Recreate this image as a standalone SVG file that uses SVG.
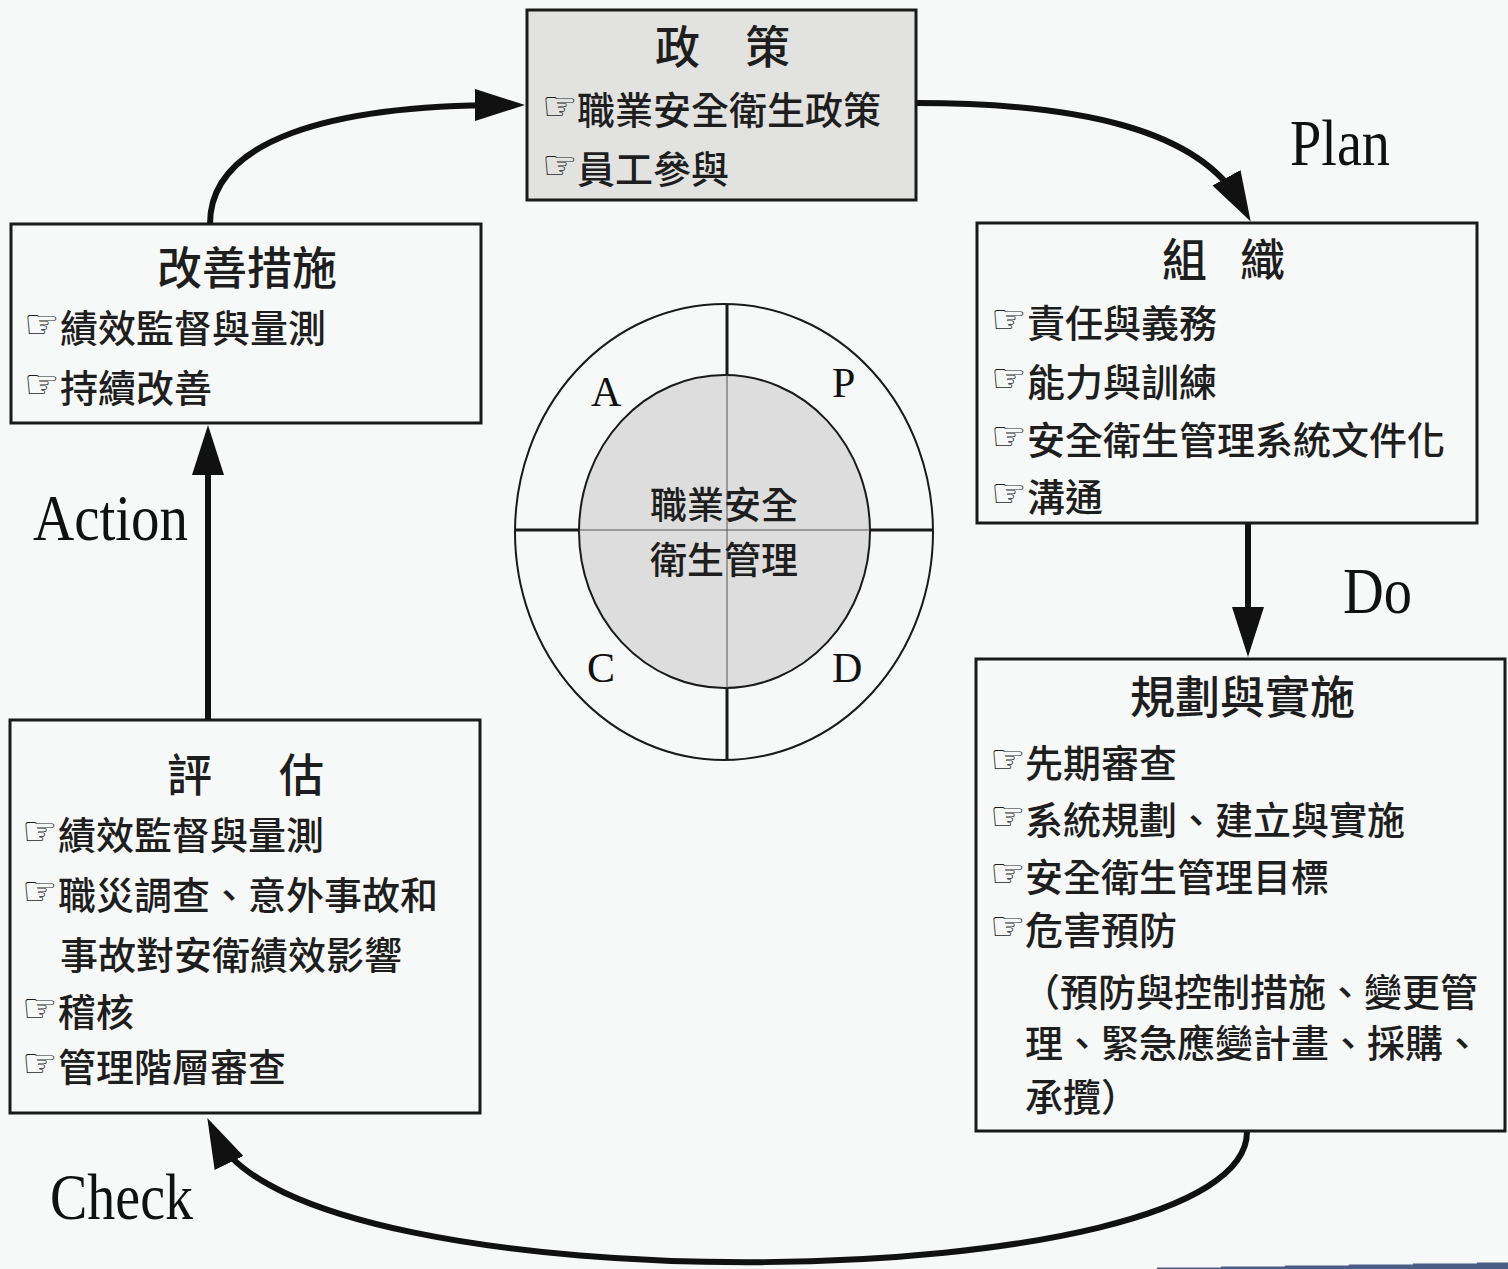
<svg xmlns="http://www.w3.org/2000/svg" width="1508" height="1269" viewBox="0 0 1508 1269">
<style>
.bg{fill:#f7f8f8}
.box{fill:none;stroke:#1a1a1a;stroke-width:3}
.cjk{font-family:"Noto Sans CJK TC","Noto Sans CJK SC",sans-serif;fill:#1e1e1e;font-weight:500}
.title{font-size:45px}
.item{font-size:38px}
.hand{font-family:"DejaVu Sans",sans-serif;font-size:40px;fill:#1e1e1e}
.lbl{font-family:"Liberation Serif","Times New Roman",serif;font-size:66px;fill:#111}
.pdca{font-family:"Liberation Serif","Times New Roman",serif;font-size:42px;fill:#111}
.conn{fill:none;stroke:#111;stroke-width:6}
.ring{fill:none;stroke:#1a1a1a;stroke-width:2}
</style>
<defs>
<marker id="head" viewBox="0 0 50 32" refX="30" refY="16" markerWidth="50" markerHeight="32" markerUnits="userSpaceOnUse" orient="auto">
<path d="M0,0 L50,16 L0,32 z" fill="#111"/>
</marker>
</defs>
<rect class="bg" x="0" y="0" width="1508" height="1269"/>

<g id="connectors">
<path class="conn" d="M 210 224 C 210 140 330 105 505 105" marker-end="url(#head)"/>
<path class="conn" d="M 916 103 C 1080 103 1200 130 1241 204" marker-end="url(#head)"/>
<path class="conn" d="M 1248 523 L 1248 637" marker-end="url(#head)"/>
<path class="conn" d="M 1247 1131 C 1250 1300 300 1310 216 1136" marker-end="url(#head)"/>
<path class="conn" d="M 208 719 L 208 445" marker-end="url(#head)"/>
</g>

<g id="labels">
<text class="lbl" x="1290" y="165" textLength="100" lengthAdjust="spacingAndGlyphs">Plan</text>
<text class="lbl" x="1343" y="613" textLength="69" lengthAdjust="spacingAndGlyphs">Do</text>
<text class="lbl" x="33" y="540" textLength="155" lengthAdjust="spacingAndGlyphs">Action</text>
<text class="lbl" x="50" y="1219" textLength="143" lengthAdjust="spacingAndGlyphs">Check</text>
</g>

<g id="policy">
<rect x="527" y="10" width="389" height="190" fill="#e2e3e1" stroke="#1a1a1a" stroke-width="3"/>
<text class="cjk title" x="655 745" y="64">政策</text>
<text class="hand" x="542" y="120">☞</text>
<text class="cjk item" x="577" y="124">職業安全衛生政策</text>
<text class="hand" x="542" y="179">☞</text>
<text class="cjk item" x="577" y="183">員工參與</text>
</g>

<g id="organization">
<rect class="box" x="977" y="223" width="500" height="300"/>
<text class="cjk title" x="1162 1240" y="277">組織</text>
<text class="hand" x="991" y="333">☞</text>
<text class="cjk item" x="1027" y="337">責任與義務</text>
<text class="hand" x="991" y="392">☞</text>
<text class="cjk item" x="1027" y="396">能力與訓練</text>
<text class="hand" x="991" y="450">☞</text>
<text class="cjk item" x="1027" y="454">安全衛生管理系統文件化</text>
<text class="hand" x="991" y="507">☞</text>
<text class="cjk item" x="1027" y="511">溝通</text>
</g>

<g id="planning">
<rect class="box" x="976" y="659" width="529" height="472"/>
<text class="cjk title" x="1130" y="714">規劃與實施</text>
<text class="hand" x="990" y="773">☞</text>
<text class="cjk item" x="1025" y="777">先期審查</text>
<text class="hand" x="990" y="830">☞</text>
<text class="cjk item" x="1025" y="834">系統規劃、建立與實施</text>
<text class="hand" x="990" y="887">☞</text>
<text class="cjk item" x="1025" y="891">安全衛生管理目標</text>
<text class="hand" x="990" y="940">☞</text>
<text class="cjk item" x="1025" y="944">危害預防</text>
<text class="cjk item" x="1022" y="1006">（預防與控制措施、變更管</text>
<text class="cjk item" x="1025" y="1057">理、緊急應變計畫、採購、</text>
<text class="cjk item" x="1025" y="1111">承攬）</text>
</g>

<g id="evaluation">
<rect class="box" x="10" y="720" width="470" height="393"/>
<text class="cjk title" x="167 279" y="792">評估</text>
<text class="hand" x="22" y="845">☞</text>
<text class="cjk item" x="58" y="849">績效監督與量測</text>
<text class="hand" x="22" y="905">☞</text>
<text class="cjk item" x="58" y="909">職災調查、意外事故和</text>
<text class="cjk item" x="60" y="969">事故對安衛績效影響</text>
<text class="hand" x="22" y="1022">☞</text>
<text class="cjk item" x="58" y="1026">稽核</text>
<text class="hand" x="22" y="1077">☞</text>
<text class="cjk item" x="58" y="1081">管理階層審查</text>
</g>

<g id="improvement">
<rect class="box" x="11" y="224" width="470" height="199"/>
<text class="cjk title" x="157" y="285">改善措施</text>
<text class="hand" x="24" y="338">☞</text>
<text class="cjk item" x="60" y="342">績效監督與量測</text>
<text class="hand" x="24" y="398">☞</text>
<text class="cjk item" x="60" y="402">持續改善</text>
</g>

<g id="pdca-circle">
<ellipse class="ring" cx="724" cy="532" rx="209" ry="228"/>
<ellipse cx="724.5" cy="531.5" rx="145.5" ry="156.5" fill="#dcdddc" stroke="#1a1a1a" stroke-width="2"/>
<line x1="727" y1="304" x2="727" y2="375" stroke="#1a1a1a" stroke-width="3"/>
<line x1="727" y1="688" x2="727" y2="760" stroke="#1a1a1a" stroke-width="3"/>
<line x1="515" y1="530" x2="579" y2="530" stroke="#1a1a1a" stroke-width="3"/>
<line x1="870" y1="530" x2="933" y2="530" stroke="#1a1a1a" stroke-width="3"/>
<line x1="727" y1="375" x2="727" y2="688" stroke="#555" stroke-width="1"/>
<line x1="579" y1="530" x2="870" y2="530" stroke="#555" stroke-width="1"/>
<text class="pdca" x="591" y="406">A</text>
<text class="pdca" x="832" y="397">P</text>
<text class="pdca" x="587" y="682">C</text>
<text class="pdca" x="832" y="682">D</text>
<text class="cjk" font-size="37" x="650" y="519">職業安全</text>
<text class="cjk" font-size="37" x="650" y="574">衛生管理</text>
</g>

<polygon points="1157,1269 1157,1267.5 1221,1267.5 1221,1266.5 1285,1266.5 1285,1265.5 1349,1265.5 1349,1264.5 1413,1264.5 1413,1263.5 1477,1263.5 1477,1262.5 1508,1262.5 1508,1269" fill="#4a5d85"/>
</svg>
